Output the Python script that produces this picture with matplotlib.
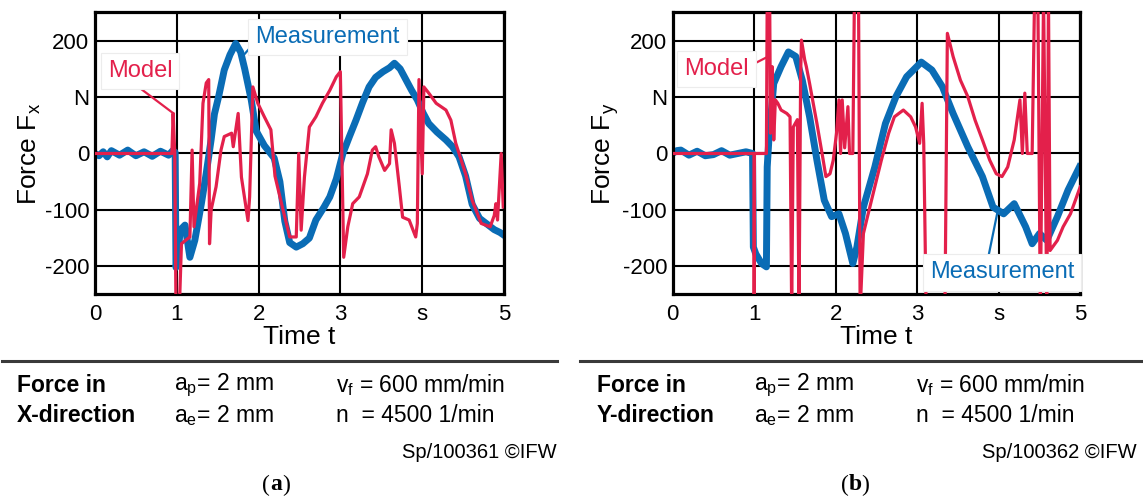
import matplotlib
matplotlib.use("Agg")
import matplotlib.pyplot as plt
from matplotlib.lines import Line2D
from matplotlib.transforms import ScaledTranslation

plt.rcParams['font.family'] = ['Liberation Sans', 'DejaVu Sans']

RED = '#e3204b'
BLUE = '#0a6cb5'

#### data (time in s, force in N) ####
# (a) force in X-direction
tx_meas = [0, 0.05, 0.1, 0.15, 0.2, 0.3, 0.4, 0.5, 0.6, 0.7, 0.8, 0.9, 0.95, 0.98,
           0.99, 1.02, 1.04, 1.1, 1.16, 1.22, 1.30, 1.36, 1.42, 1.46, 1.51, 1.58, 1.65, 1.72,
           1.78, 1.83, 1.91, 1.97, 2.07, 2.19, 2.26, 2.32, 2.38, 2.46, 2.54, 2.62, 2.70,
           2.80, 2.87, 2.95, 3.03, 3.11, 3.19, 3.27, 3.35, 3.43, 3.52, 3.60, 3.66,
           3.73, 3.80, 3.87, 3.94, 4.01, 4.08, 4.18, 4.29, 4.37, 4.45, 4.53, 4.61,
           4.70, 4.79, 4.88, 4.95, 5.0]
fx_meas = [0, -4, 3, -6, 5, -3, 6, -4, 3, -5, 4, -3, 5, 2,
           -202, -175, -136, -127, -184, -154, -89, -35, 25, 70, 100, 148, 175, 195,
           180, 150, 95, 40, 14, -8, -50, -120, -158, -166, -160, -150, -118,
           -95, -77, -45, 0, 30, 59, 90, 118, 135, 145, 152, 160,
           150, 131, 112, 95, 72, 53, 38, 24, 12, -6, -40, -90,
           -115, -125, -135, -140, -145]

tx_model = [0, 0.94, 0.955, 0.975, 0.99, 1.03, 1.057, 1.098, 1.16, 1.187, 1.21, 1.28,
            1.32, 1.36, 1.39, 1.40, 1.42, 1.48, 1.54, 1.58, 1.67, 1.69, 1.75, 1.79,
            1.87, 1.89, 1.93, 1.99, 2.07, 2.15, 2.2, 2.3, 2.38, 2.46, 2.49, 2.52,
            2.56, 2.62, 2.70, 2.78, 2.87, 2.95, 2.999, 3.04, 3.09, 3.15, 3.23, 3.33,
            3.39, 3.43, 3.47, 3.54, 3.60, 3.62, 3.66, 3.72, 3.76, 3.84, 3.92, 3.94,
            3.96, 4.0, 4.02, 4.08, 4.17, 4.29, 4.35, 4.41, 4.53, 4.61, 4.72, 4.83,
            4.88, 4.90, 4.92, 4.965, 4.99]
fx_model = [0, 0, 71, 0, -280, -280, -160, -155, -148, 6, -130, -53,
            89, 125, 131, -160, -100, -59, 6, 30, 36, 12, 71, -42,
            -119, -77, 118, 89, 65, 42, -40, -101, -148, -148, 0, -136,
            -42, 47, 65, 89, 112, 136, 145, -184, -130, -89, -77, -36,
            6, 12, -6, -30, -18, 42, 18, -59, -113, -118, -148, -124,
            131, -36, 118, 107, 89, 77, 59, 18, -36, -83, -124, -130,
            -110, -89, -118, 0, -95]

# (b) force in Y-direction
ty_meas = [0, 0.05, 0.1, 0.2, 0.3, 0.4, 0.5, 0.6, 0.7, 0.8, 0.9, 0.98,
           0.99, 1.02, 1.09, 1.15, 1.16, 1.18, 1.24, 1.33, 1.42, 1.51, 1.59, 1.68,
           1.77, 1.86, 1.95, 2.04, 2.12, 2.21, 2.26, 2.34, 2.48, 2.61, 2.74, 2.87,
           3.05, 3.18, 3.31, 3.44, 3.62, 3.80, 3.93, 4.06, 4.19, 4.33, 4.41, 4.50,
           4.59, 4.72, 4.85, 4.99]
fy_meas = [0, 5, 6, -3, 4, -4, -2, 5, -3, 0, 3, 0,
           -166, -178, -195, -201, -24, 24, 124, 154, 180, 172, 130, 65,
           -12, -83, -112, -107, -142, -195, -166, -95, -24, 53, 101, 136,
           162, 148, 118, 71, 12, -41, -95, -107, -89, -130, -160, -142,
           -154, -112, -65, -24]

ty_model = [0, 1.0, 1.0, 1.003, 1.15, 1.16, 1.19, 1.2, 1.22, 1.24, 1.26, 1.29,
            1.33, 1.4, 1.44, 1.46, 1.48, 1.53, 1.55, 1.57, 1.58, 1.62, 1.64, 1.68,
            1.77, 1.84, 1.88, 1.93, 1.97, 2.01, 2.04, 2.06, 2.08, 2.11, 2.15, 2.17,
            2.21, 2.23, 2.28, 2.30, 2.34, 2.39, 2.48, 2.56, 2.65, 2.72, 2.83, 2.92,
            2.98, 3.03, 3.06, 3.08, 3.11, 3.34, 3.37, 3.44, 3.53, 3.62, 3.71, 3.80,
            3.89, 3.97, 4.04, 4.11, 4.19, 4.26, 4.29, 4.32, 4.35, 4.41, 4.44, 4.48,
            4.51, 4.55, 4.59, 4.61, 4.63, 4.72, 4.79, 4.88, 4.94, 5.0]
fy_model = [0, 0, -280, 0, 0, 280, 280, 36, 154, 24, 95, 89,
            77, 71, 65, -280, 47, 60, -280, 140, 201, 166, 154, 124,
            53, -6, -41, -36, -12, 36, 95, 0, 95, 10, 83, 0,
            0, 280, 280, -280, -142, -112, -59, -12, 36, 65, 77, 65,
            47, 18, 89, 18, -280, -280, 213, 172, 130, 101, 59, 24,
            -12, -36, -41, -24, 24, 95, 0, 107, 0, 0, 280, 280,
            -280, 280, -280, 280, -172, -154, -130, -107, -83, -59]

xticks = [0, 1, 2, 3, 4, 5]
xticklabels = ['0', '1', '2', '3', 's', '5']
yticks = [-200, -100, 0, 100, 200]
yticklabels = ['-200', '-100', '0', 'N', '200']

fig = plt.figure(figsize=(11.43, 5.01), dpi=100)

panels = [
    # axes rect, meas, model, ylabel, model label, model leader, meas label, meas leader
    ([0.0831, 0.4122, 0.3579, 0.5629], (tx_meas, fx_meas), (tx_model, fx_model), 'Force F$_\\mathregular{x}$',
     (0.55, 146), ([0.53, 0.96], [118, 71]), (2.84, 207), ([1.82, 1.93], [175, 193])),
    ([0.5885, 0.4122, 0.3566, 0.5629], (ty_meas, fy_meas), (ty_model, fy_model), 'Force F$_\\mathregular{y}$',
     (0.54, 150), ([0.97, 1.16], [157, 171]), (4.04, -211), ([3.88, 3.98], [-178, -107])),
]

for rect, meas, model, ylab, mod_xy, mod_lead, meas_xy, meas_lead in panels:
    ax = fig.add_axes(rect)
    ax.plot(meas[0], meas[1], color=BLUE, linewidth=5.0, solid_joinstyle='round', zorder=2)
    ax.plot(model[0], model[1], color=RED, linewidth=2.3, zorder=3)
    ax.set_xlim(0, 5)
    ax.set_ylim(-250, 250)
    ax.set_xticks(xticks, labels=xticklabels)
    ax.set_yticks(yticks, labels=yticklabels)
    ax.tick_params(length=0, labelsize=16, pad=4)
    ax.tick_params(axis='x', pad=7)
    ax.grid(True, color='black', linewidth=1.5)
    ax.set_axisbelow(True)
    for sp in ax.spines.values():
        sp.set_linewidth(2.3)
    ax.set_xlabel('Time t', fontsize=19, labelpad=0)
    ax.set_ylabel(ylab, fontsize=19, labelpad=1)

    # labels with leader lines
    ax.plot(mod_lead[0], mod_lead[1], color=RED, linewidth=1.6, zorder=5)
    ax.plot(meas_lead[0], meas_lead[1], color=BLUE, linewidth=1.6, zorder=5)
    box = dict(facecolor='white', edgecolor='#ececec', boxstyle='square,pad=0.3', linewidth=0.8)
    ax.text(mod_xy[0], mod_xy[1], 'Model', color=RED, fontsize=17, ha='center', va='center',
            bbox=box, zorder=6)
    ax.text(meas_xy[0], meas_xy[1], 'Measurement', color=BLUE, fontsize=17, ha='center', va='center',
            bbox=box, zorder=6)

#### lower part: test conditions ####
sep = '#3a3a3a'
fig.add_artist(Line2D([0.002, 0.4875], [0.280, 0.280], color=sep, linewidth=2.2))
fig.add_artist(Line2D([0.5075, 0.999], [0.280, 0.280], color=sep, linewidth=2.2))

for x0, direction, code, tag, xc in [(0.0149, 'X-direction', 'Sp/100361 \u00a9IFW', 'a', 0.2415),
                                       (0.5223, 'Y-direction', 'Sp/100362 \u00a9IFW', 'b', 0.7480)]:
    fig.text(x0, 0.2315, 'Force in', fontsize=16.5, fontweight='bold', va='center')
    fig.text(x0, 0.170, direction, fontsize=16.5, fontweight='bold', va='center')
    fig.text(x0 + 0.1374, 0.2315, 'a$_\\mathregular{p}$= 2 mm', fontsize=16.5, va='center')
    fig.text(x0 + 0.1374, 0.170, 'a$_\\mathregular{e}$= 2 mm', fontsize=16.5, va='center')
    fig.text(x0 + 0.2790, 0.2315, 'v$_\\mathregular{f}$ = 600 mm/min', fontsize=16.5, va='center')
    fig.text(x0 + 0.2790, 0.170, 'n  = 4500 1/min', fontsize=16.5, va='center')
    fig.text(x0 + 0.4724, 0.096, code, fontsize=14.5, ha='right', va='center')
    fig.text(xc, 0.032, tag, fontsize=17, fontweight='bold', family='Liberation Serif',
             ha='center', va='center')
    for s, dx, ha in [('(', -4.6, 'right'), (')', 4.6, 'left')]:
        fig.text(xc, 0.032, s, fontsize=17, family='Liberation Serif', ha=ha, va='center',
                 transform=fig.transFigure + ScaledTranslation(dx / 72, 0, fig.dpi_scale_trans))

fig.savefig('out.png', dpi=100)
